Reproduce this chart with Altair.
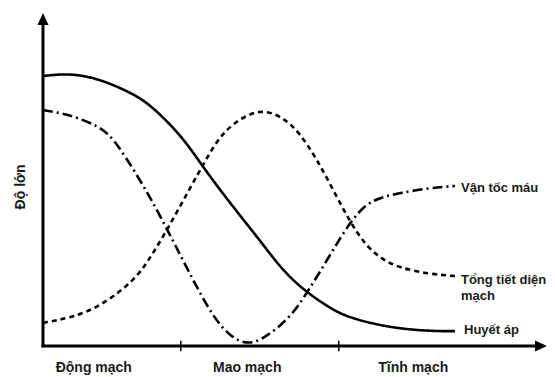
import altair as alt
import pandas as pd

# ---- data (x: position along the vessel path, y: relative magnitude) ----
series_names = ["Huyết áp", "Tổng tiết diện mạch", "Vận tốc máu"]

x_pressure = [0, 5.4, 11.3, 17.3, 21.3, 27.8, 31.8, 37.8, 43.1, 47.7, 52.5, 57.7, 61.0, 69.0, 76.9, 81.9]
y_pressure = [81.8, 82.7, 80.9, 76.9, 73.3, 63.3, 54.2, 42.1, 32.1, 22.7, 16.1, 10.9, 8.5, 5.5, 4.5, 4.5]

x_area = [0, 5.4, 11.3, 18.3, 21.3, 24.7, 31.2, 34.6, 37.8, 43.1, 47.7, 51.1, 54.5, 57.7, 61.0, 64.4, 67.6, 71.0, 76.9, 81.9]
y_area = [7.0, 8.5, 11.8, 20.0, 26.7, 35.2, 53.3, 62.4, 67.6, 72.1, 69.4, 64.5, 56.4, 47.3, 37.6, 30.0, 26.1, 23.6, 21.8, 21.2]

x_velocity = [0, 4.8, 11.3, 14.7, 21.3, 24.7, 27.8, 33.2, 37.2, 40.8, 44.1, 49.1, 52.5, 56.5, 61.0, 64.4, 67.6, 71.0, 76.9, 81.9]
y_velocity = [71.5, 70.3, 66.7, 61.8, 45.2, 35.2, 26.1, 10.0, 2.7, 0.3, 2.4, 8.5, 16.1, 26.1, 37.6, 43.3, 45.2, 46.4, 47.9, 48.5]

category_labels = ["Động mạch", "Mao mạch", "Tĩnh mạch"]
category_x = [10.1, 40.6, 73.6]
boundary_x = [27.4, 58.8]

end_labels = ["Vận tốc máu", "Tổng tiết diện\nmạch", "Huyết áp"]
end_label_x = [83.1, 83.1, 83.7]
end_label_y = [47.9, 20.0, 4.8]
y_title = "Độ lớn"

# ---- layout mapping (page pixels) ----
W, H = 539, 369
XK, YK = 5.03, 3.3          # px per data unit
X0, Y0 = 43 - 8, 346 - 8    # origin inside the svg
xdom = [-X0 / XK, (W - X0) / XK]
ydom = [(Y0 - H) / YK, Y0 / YK]

xs = alt.Scale(domain=xdom, nice=False, zero=False)
ys = alt.Scale(domain=ydom, nice=False, zero=False)


def X(f="x"):
    return alt.X(f + ":Q", scale=xs, axis=None)


def Y(f="y"):
    return alt.Y(f + ":Q", scale=ys, axis=None)


rows = []
for name, xv, yv in [(series_names[0], x_pressure, y_pressure),
                     (series_names[1], x_area, y_area),
                     (series_names[2], x_velocity, y_velocity)]:
    for i, (a, b) in enumerate(zip(xv, yv)):
        rows.append({"series": name, "x": a, "y": b, "order": i})
curves = pd.DataFrame(rows)

dash_map = {series_names[0]: [1, 0], series_names[1]: [5, 4], series_names[2]: [10, 4, 2, 4]}
line_layers = []
for name in series_names:
    line_layers.append(
        alt.Chart(curves[curves.series == name]).mark_line(
            interpolate="basis", color="black", strokeWidth=2.6,
            strokeDash=dash_map[name]).encode(x=X(), y=Y(), order="order:Q")
    )

# axes
axes_df = pd.DataFrame([
    {"x": -0.3, "x2": 99.0, "y": 0, "y2": 0},
    {"x": 0, "x2": 0, "y": -0.4, "y2": 99.1},
])
axes = alt.Chart(axes_df).mark_rule(color="black", strokeWidth=3).encode(
    x=X(), x2="x2:Q", y=Y(), y2="y2:Q")

up = alt.Chart(pd.DataFrame({"x": [0], "y": [99.1]})).mark_point(
    shape="M0,-1L0.92,1L-0.92,1Z", size=144, filled=True, color="black", opacity=1).encode(
    x=X(), y=Y())
right = alt.Chart(pd.DataFrame({"x": [99.0], "y": [0]})).mark_point(
    shape="M1,0L-1,-0.92L-1,0.92Z", size=144, filled=True, color="black", opacity=1).encode(
    x=X(), y=Y())

ticks = alt.Chart(pd.DataFrame({"x": boundary_x, "y": [1.6, 1.6], "y2": [-1.6, -1.6]})).mark_rule(
    color="black", strokeWidth=1.5).encode(x=X(), y=Y(), y2="y2:Q")

font = "Liberation Sans"
cat_text = alt.Chart(pd.DataFrame({"x": category_x, "y": [-6.7] * 3, "t": category_labels})).mark_text(
    font=font, fontSize=14, fontWeight="bold", color="#1a1a1a", baseline="middle", align="center").encode(
    x=X(), y=Y(), text="t:N")

end_text = alt.Chart(pd.DataFrame({"x": end_label_x, "y": end_label_y, "t": end_labels})).mark_text(
    font=font, fontSize=13, fontWeight="bold", color="#1a1a1a", baseline="middle", align="left",
    lineBreak="\n", lineHeight=16).encode(
    x=X(), y=Y(), text="t:N")

ytitle = alt.Chart(pd.DataFrame({"x": [-4.4], "y": [48.2], "t": [y_title]})).mark_text(
    font=font, fontSize=14, fontWeight="bold", color="#1a1a1a", angle=270,
    baseline="middle", align="center").encode(
    x=X(), y=Y(), text="t:N")

chart = alt.layer(*line_layers, axes, up, right, ticks, cat_text, end_text, ytitle).properties(
    width=W, height=H, padding=0, autosize=alt.AutoSizeParams(type="none"),
    background="white",
).configure_view(stroke=None)

chart.save("out.html", embed_options={"renderer": "svg", "actions": False})
